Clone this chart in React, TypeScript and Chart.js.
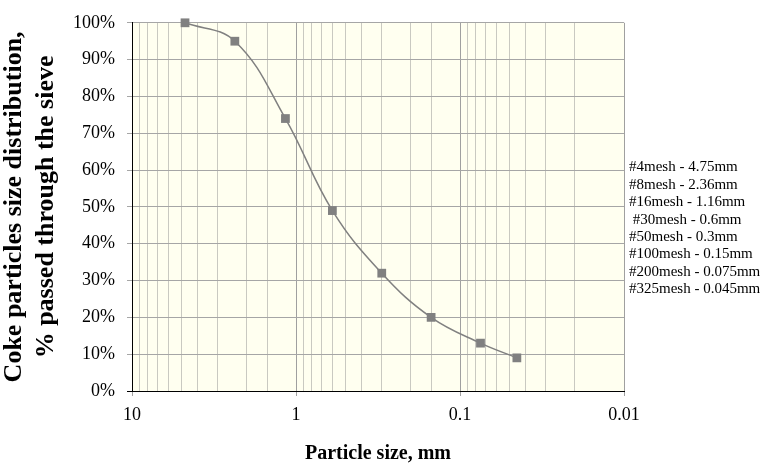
import React, { useEffect, useRef } from 'react';
import { Chart, registerables } from 'chart.js';

Chart.register(...registerables);

// ---- data ----
const sizesMm = [4.75, 2.36, 1.16, 0.6, 0.3, 0.15, 0.075, 0.045];
const passedPct = [100, 95, 74, 49, 32, 20, 13, 9];
const meshLabels = [
  '#4mesh - 4.75mm',
  '#8mesh - 2.36mm',
  '#16mesh - 1.16mm',
  ' #30mesh - 0.6mm',
  '#50mesh - 0.3mm',
  '#100mesh - 0.15mm',
  '#200mesh - 0.075mm',
  '#325mesh - 0.045mm',
];
const yTitleLines = ['Coke particles size distribution,', '% passed through the sieve'];
const xTitleText = 'Particle size, mm';
const xMin = 0.01;
const xMax = 10;
const yMin = 0;
const yMax = 100;
const yStep = 10;

const FONT = '"Liberation Serif", "Times New Roman", serif';

const isDecade = (v: number) => {
  const l = Math.log10(v);
  return Math.abs(l - Math.round(l)) < 1e-6;
};

const bgPlugin = {
  id: 'plotBg',
  beforeDraw(chart: any) {
    const { ctx, chartArea } = chart;
    if (!chartArea) return;
    ctx.save();
    ctx.fillStyle = '#FFFFF0';
    ctx.fillRect(chartArea.left, chartArea.top, chartArea.right - chartArea.left, chartArea.bottom - chartArea.top);
    ctx.restore();
  },
};

const meshTextPlugin = {
  id: 'meshText',
  afterDraw(chart: any) {
    const { ctx, chartArea } = chart;
    ctx.save();
    ctx.font = `15px ${FONT}`;
    ctx.fillStyle = '#000';
    ctx.textAlign = 'left';
    ctx.textBaseline = 'middle';
    const x0 = chartArea.right + 5;
    const y0 = chartArea.top + 144.7;
    meshLabels.forEach((t, i) => {
      ctx.fillText(t, x0, y0 + i * 17.37);
    });
    ctx.restore();
  },
};

export default function App() {
  const ref = useRef<HTMLCanvasElement | null>(null);

  useEffect(() => {
    if (!ref.current) return;
    const chart = new Chart(ref.current, {
      type: 'line',
      data: {
        datasets: [
          {
            data: sizesMm.map((s, i) => ({ x: s, y: passedPct[i] })),
            borderColor: '#808080',
            borderWidth: 1.5,
            tension: 0.4,
            pointStyle: 'rect',
            pointRadius: 6.2,
            pointBackgroundColor: '#808080',
            pointBorderColor: '#808080',
            pointBorderWidth: 0,
            clip: false as any,
          },
        ],
      },
      options: {
        animation: false,
        responsive: false,
        events: [],
        layout: { padding: { top: 22, right: 139, bottom: 0, left: 0 } },
        plugins: {
          legend: { display: false },
          tooltip: { enabled: false },
        },
        scales: {
          x: {
            type: 'logarithmic',
            reverse: true,
            min: xMin,
            max: xMax,
            afterFit: (s: any) => {
              s.height = 77;
            },
            ticks: {
              autoSkip: false,
              maxRotation: 0,
              minRotation: 0,
              padding: 8,
              color: '#000',
              font: { family: FONT, size: 18 },
              callback: (v: any) => (isDecade(Number(v)) ? String(Number(Number(v).toPrecision(3))) : ''),
            },
            grid: {
              color: (c: any) => (c.tick && isDecade(c.tick.value) ? '#A0A0A0' : '#C9C9C1'),
              tickLength: 5,
              tickColor: (c: any) => (c.tick && isDecade(c.tick.value) ? '#A0A0A0' : 'rgba(0,0,0,0)'),
            },
            border: { color: '#000', width: 1 },
            title: {
              display: true,
              text: xTitleText,
              color: '#000',
              font: { family: FONT, size: 20, weight: 'bold', lineHeight: 1.2 },
              padding: { top: 0, bottom: 2 },
            },
          },
          y: {
            min: yMin,
            max: yMax,
            afterFit: (s: any) => {
              s.width = 132;
            },
            ticks: {
              stepSize: yStep,
              padding: 12,
              color: '#000',
              font: { family: FONT, size: 18 },
              callback: (v: any) => `${v}%`,
            },
            grid: {
              color: '#A6A6A6',
              tickLength: 5,
              tickColor: (c: any) => (c.tick && c.tick.value === 0 ? '#000' : '#A6A6A6'),
            },
            border: { color: '#000', width: 1 },
            title: {
              display: true,
              text: yTitleLines,
              color: '#000',
              font: { family: FONT, size: 26, weight: 'bold', lineHeight: 1.2 },
              padding: { top: -1, bottom: 0 },
            },
          },
        },
      },
      plugins: [bgPlugin, meshTextPlugin],
    });
    return () => chart.destroy();
  }, []);

  return (
    <div style={{ position: 'absolute', left: 0, top: 0, width: 763, height: 468 }}>
      <canvas ref={ref} width={763} height={468} style={{ display: 'block' }} />
    </div>
  );
}
